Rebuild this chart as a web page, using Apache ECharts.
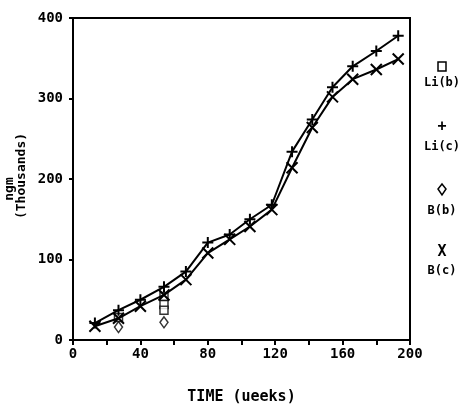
<!DOCTYPE html>
<html><head><meta charset="utf-8">
<script src="https://cdn.jsdelivr.net/npm/echarts@6/dist/echarts.min.js"></script>
<style>html,body{margin:0;padding:0;background:#fff}#c{width:468px;height:416px}</style>
</head><body><div id="c"></div>
<script>
// Li(c): "+" markers
const weeks = [13, 27, 40, 54, 67, 80, 93, 105, 118, 130, 142, 154, 166, 180, 193];
const LiC = [21, 37, 50, 66, 85, 121, 131, 150, 168, 234, 274, 314, 340, 359, 378];
// B(c): "X" markers
const BC  = [17, 27, 42, 56, 75, 108, 125, 141, 162, 214, 264, 302, 324, 336, 349];
// Li(b): squares, B(b): diamonds
const LiB = [[27, 28], [54, 54], [54, 44], [54, 37]];
const BB  = [[27, 16], [54, 22]];
const xTicks = [0, 40, 80, 120, 160, 200];
const yTicks = [0, 100, 200, 300, 400];

const font = '"DejaVu Sans Mono", monospace';
const chart = echarts.init(document.getElementById('c'), null, {renderer: 'canvas'});
const plusPath = 'path://M5,0L5,10M0,5L10,5';
const xPath = 'path://M0,0L10,10M10,0L0,10';
const legendText = (t, y) => ({type: 'text', x: 442, y: y,
  style: {text: t, fill: '#000', font: 'bold 12px ' + font, align: 'center', verticalAlign: 'middle'}});

chart.setOption({
  animation: false,
  backgroundColor: '#fff',
  grid: {left: 73, right: 58, top: 18, bottom: 76, show: true, borderColor: '#000', borderWidth: 2},
  xAxis: {
    type: 'value', min: 0, max: 200, interval: 20,
    axisLine: {lineStyle: {color: '#000', width: 2}},
    axisTick: {show: true, length: 5, lineStyle: {color: '#000', width: 2}},
    splitLine: {show: false},
    axisLabel: {color: '#000', fontFamily: font, fontWeight: 'bold', fontSize: 14, margin: 7,
      formatter: v => xTicks.includes(v) ? String(v) : ''},
    name: 'TIME (ueeks)', nameLocation: 'middle', nameGap: 50,
    nameTextStyle: {color: '#000', fontFamily: font, fontWeight: 'bold', fontSize: 15}
  },
  yAxis: {
    type: 'value', min: 0, max: 400, interval: 100,
    axisLine: {show: true, lineStyle: {color: '#000', width: 2}},
    axisTick: {show: true, length: 4, lineStyle: {color: '#000', width: 2}},
    splitLine: {show: false},
    axisLabel: {color: '#000', fontFamily: font, fontWeight: 'bold', fontSize: 14, margin: 10,
      formatter: v => yTicks.includes(v) ? String(v) : ''}
  },
  graphic: [
    {type: 'text', x: 10, y: 189, rotation: Math.PI / 2,
     style: {text: 'ngm', fill: '#000', font: 'bold 13px ' + font, align: 'center', verticalAlign: 'middle'}},
    {type: 'text', x: 22, y: 176, rotation: Math.PI / 2,
     style: {text: '(Thousands)', fill: '#000', font: 'bold 13px ' + font, align: 'center', verticalAlign: 'middle'}},
    // legend
    {type: 'rect', shape: {x: 438, y: 62, width: 8, height: 9}, style: {fill: '#fff', stroke: '#000', lineWidth: 1.5}},
    legendText('Li(b)', 83),
    {type: 'text', x: 442, y: 127, style: {text: '+', fill: '#000', font: 'bold 15px ' + font, align: 'center', verticalAlign: 'middle'}},
    legendText('Li(c)', 147),
    {type: 'polygon', shape: {points: [[442, 184], [446, 189], [442, 195], [438, 189]]}, style: {fill: '#fff', stroke: '#000', lineWidth: 1.5}},
    legendText('B(b)', 211),
    {type: 'text', x: 442, y: 252, style: {text: 'X', fill: '#000', font: 'bold 15px ' + font, align: 'center', verticalAlign: 'middle'}},
    legendText('B(c)', 271)
  ],
  series: [
    {name: 'Li(c)', type: 'line', data: weeks.map((w, i) => [w, LiC[i]]),
     symbol: plusPath, symbolSize: 11, showAllSymbol: true,
     lineStyle: {color: '#000', width: 2},
     itemStyle: {color: '#000', borderColor: '#000', borderWidth: 2}},
    {name: 'B(c)', type: 'line', data: weeks.map((w, i) => [w, BC[i]]),
     symbol: xPath, symbolSize: 11, showAllSymbol: true,
     lineStyle: {color: '#000', width: 2},
     itemStyle: {color: '#000', borderColor: '#000', borderWidth: 2}},
    {name: 'Li(b)', type: 'scatter', data: LiB, symbol: 'rect', symbolSize: 8,
     itemStyle: {color: '#fff', borderColor: '#000', borderWidth: 1.5}},
    {name: 'B(b)', type: 'scatter', data: BB, symbol: 'diamond', symbolSize: [8, 11],
     itemStyle: {color: '#fff', borderColor: '#000', borderWidth: 1.5}}
  ]
});
</script></body></html>
